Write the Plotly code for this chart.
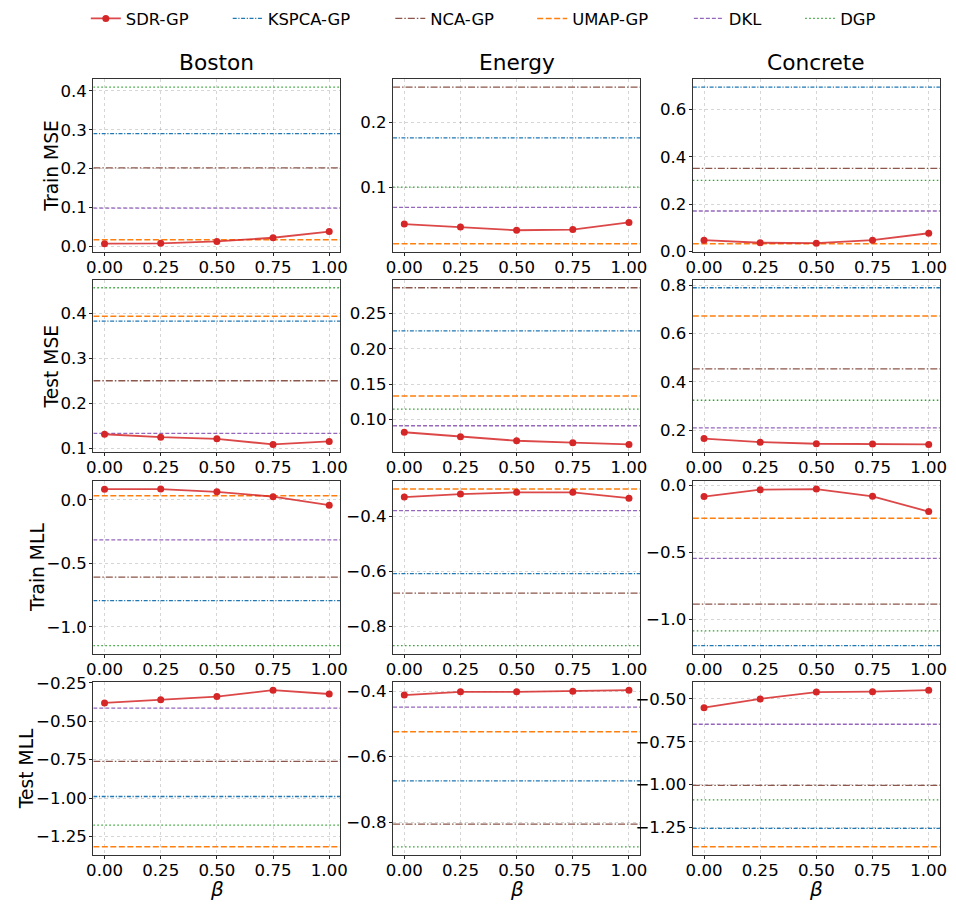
import plotly.graph_objects as go

# ---------------------------------------------------------------- data
beta = [0.0, 0.25, 0.5, 0.75, 1.0]
datasets = ["Boston", "Energy", "Concrete"]
metrics = ["Train MSE", "Test MSE", "Train MLL", "Test MLL"]
methods = ["SDR-GP", "KSPCA-GP", "NCA-GP", "UMAP-GP", "DKL", "DGP"]

# SDR-GP over beta, one list per dataset (Boston, Energy, Concrete)
sdr_train_mse = [
    [0.0067, 0.0076, 0.0126, 0.0220, 0.0380],
    [0.0437, 0.0392, 0.0342, 0.0352, 0.0462],
    [0.0480, 0.0370, 0.0350, 0.0480, 0.0770],
]
sdr_test_mse = [
    [0.1320, 0.1254, 0.1217, 0.1094, 0.1160],
    [0.0820, 0.0755, 0.0700, 0.0672, 0.0648],
    [0.1663, 0.1515, 0.1449, 0.1436, 0.1422],
]
sdr_train_mll = [
    [0.085, 0.086, 0.064, 0.026, -0.041],
    [-0.331, -0.320, -0.314, -0.314, -0.335],
    [-0.085, -0.034, -0.029, -0.083, -0.197],
]
sdr_test_mll = [
    [-0.380, -0.360, -0.339, -0.297, -0.322],
    [-0.412, -0.402, -0.402, -0.400, -0.397],
    [-0.551, -0.500, -0.460, -0.458, -0.449],
]

# Baselines (constant in beta), one value per dataset (Boston, Energy, Concrete)
kspca_train_mse = [0.290, 0.176, 0.694]
nca_train_mse = [0.202, 0.254, 0.351]
umap_train_mse = [0.017, 0.0136, 0.033]
dkl_train_mse = [0.0985, 0.0693, 0.171]
dgp_train_mse = [0.410, 0.1005, 0.300]

kspca_test_mse = [0.3833, 0.2255, 0.789]
nca_test_mse = [0.2507, 0.2866, 0.4539]
umap_test_mse = [0.3942, 0.1333, 0.6728]
dkl_test_mse = [0.134, 0.0912, 0.2108]
dgp_test_mse = [0.4572, 0.1148, 0.3245]

kspca_train_mll = [-0.794, -0.608, -1.195]
nca_train_mll = [-0.608, -0.679, -0.886]
umap_train_mll = [0.034, -0.302, -0.246]
dkl_train_mll = [-0.314, -0.380, -0.545]
dgp_train_mll = [-1.149, -0.869, -1.085]

kspca_test_mll = [-0.990, -0.674, -1.256]
nca_test_mll = [-0.761, -0.806, -1.005]
umap_test_mll = [-1.318, -0.524, -1.364]
dkl_test_mll = [-0.414, -0.449, -0.648]
dgp_test_mll = [-1.176, -0.875, -1.090]

# y tick spacing and format per panel (rows = metrics, cols = datasets)
y_ticks = [
    [(0.1, ".1f"), (0.1, ".1f"), (0.2, ".1f")],
    [(0.1, ".1f"), (0.05, ".2f"), (0.2, ".1f")],
    [(0.5, ".1f"), (0.2, ".1f"), (0.5, ".1f")],
    [(0.25, ".2f"), (0.2, ".1f"), (0.25, ".2f")],
]

# ---------------------------------------------------------------- styling
W, H = 956, 909
FONT = "DejaVu Sans"
styles = {
    "SDR-GP": dict(color="#d62728", width=1.8, dash="solid"),
    "KSPCA-GP": dict(color="#1f77b4", width=1.3, dash="4px,1.6px,1.2px,1.6px"),
    "NCA-GP": dict(color="#8c564b", width=1.3, dash="7px,2px,1.5px,2px"),
    "UMAP-GP": dict(color="#ff7f0e", width=1.5, dash="6px,2.5px"),
    "DKL": dict(color="#9467bd", width=1.3, dash="4px,2px"),
    "DGP": dict(color="#2ca02c", width=1.3, dash="1.5px,2.5px"),
}

col_px = [(87.6, 338.4), (391.8, 642.6), (696.0, 946.8)]
row_px = [(71.7, 247.7), (276.7, 452.7), (482.3, 658.3), (687.7, 863.7)]
XLIM = [-0.05, 1.05]

panel_data = [
    (sdr_train_mse, [kspca_train_mse, nca_train_mse, umap_train_mse, dkl_train_mse, dgp_train_mse]),
    (sdr_test_mse, [kspca_test_mse, nca_test_mse, umap_test_mse, dkl_test_mse, dgp_test_mse]),
    (sdr_train_mll, [kspca_train_mll, nca_train_mll, umap_train_mll, dkl_train_mll, dgp_train_mll]),
    (sdr_test_mll, [kspca_test_mll, nca_test_mll, umap_test_mll, dkl_test_mll, dgp_test_mll]),
]

fig = go.Figure()
layout = {}
legend_names = ["legend", "legend2", "legend3", "legend4", "legend5", "legend6"]

for r in range(4):
    sdr_rows, base_rows = panel_data[r]
    for c in range(3):
        k = r * 3 + c + 1
        xa = "x" if k == 1 else f"x{k}"
        ya = "y" if k == 1 else f"y{k}"
        sdr = sdr_rows[c]
        bases = [b[c] for b in base_rows]
        all_vals = sdr + bases
        lo, hi = min(all_vals), max(all_vals)
        pad = 0.05 * (hi - lo)
        first = (r == 0 and c == 0)

        for m, v in zip(methods[1:], bases):
            st = styles[m]
            fig.add_trace(go.Scatter(
                x=XLIM, y=[v, v], mode="lines", name=m,
                line=dict(color=st["color"], width=st["width"], dash=st["dash"]),
                xaxis=xa, yaxis=ya, hoverinfo="skip",
                showlegend=first, legend=legend_names[methods.index(m)],
            ))
        st = styles["SDR-GP"]
        fig.add_trace(go.Scatter(
            x=beta, y=sdr, mode="lines+markers", name="SDR-GP",
            line=dict(color="rgba(214,39,40,0.85)", width=st["width"]),
            marker=dict(color=st["color"], size=7),
            xaxis=xa, yaxis=ya, showlegend=first, legend="legend",
        ))

        x0, x1 = col_px[c]
        y0, y1 = row_px[r]
        dt, fmt = y_ticks[r][c]
        axis_common = dict(
            showline=True, mirror=True, linecolor="#333333", linewidth=1.3,
            ticks="outside", ticklen=3, tickwidth=1.1, tickcolor="#222222",
            showgrid=True, gridcolor="rgba(0,0,0,0.16)", gridwidth=0.9, griddash="dot",
            zeroline=False, tickfont=dict(family=FONT, size=16.6, color="black"),
        )
        layout["xaxis" if k == 1 else f"xaxis{k}"] = dict(
            axis_common, domain=[x0 / W, x1 / W], anchor=ya, range=XLIM,
            tickvals=beta, tickformat=".2f", ticklabelstandoff=-3,
        )
        layout["yaxis" if k == 1 else f"yaxis{k}"] = dict(
            axis_common, domain=[1 - y1 / H, 1 - y0 / H], anchor=xa,
            range=[lo - pad, hi + pad], dtick=dt, tick0=0, tickformat=fmt,
            ticklabelstandoff=-1,
        )

annotations = []
for c, name in enumerate(datasets):
    cx = (col_px[c][0] + col_px[c][1]) / 2
    annotations.append(dict(
        text=name, x=cx / W, y=1 - 69 / H, xref="paper", yref="paper",
        showarrow=False, xanchor="center", yanchor="bottom",
        font=dict(family=FONT, size=21.7, color="black"),
    ))
    annotations.append(dict(
        text="<i>β</i>", x=cx / W, y=1 - 886 / H, xref="paper", yref="paper",
        showarrow=False, xanchor="center", yanchor="top", borderpad=0,
        font=dict(family=FONT, size=20, color="black"),
    ))
ytitle_x = [45, 45, 31, 20]
for r, name in enumerate(metrics):
    cy = (row_px[r][0] + row_px[r][1]) / 2
    annotations.append(dict(
        text=name, x=ytitle_x[r] / W, y=1 - cy / H, xref="paper", yref="paper",
        showarrow=False, xanchor="center", yanchor="middle", textangle=-90,
        font=dict(family=FONT, size=18.7, color="black"),
    ))

# one legend per method so each entry sits at its own spot along the top
legend_text_x = [120, 264, 429, 573, 732, 845]
for name, tx in zip(legend_names, legend_text_x):
    layout[name] = dict(
        x=(tx - 40) / W, y=1 - 10 / H, xanchor="left", yanchor="middle",
        orientation="h", bgcolor="rgba(0,0,0,0)", borderwidth=0,
        font=dict(family=FONT, size=16.4, color="black"),
    )

fig.update_layout(
    width=W, height=H, margin=dict(l=0, r=0, t=0, b=0),
    paper_bgcolor="white", plot_bgcolor="white",
    annotations=annotations, **layout,
)

fig.write_html("out.html")
